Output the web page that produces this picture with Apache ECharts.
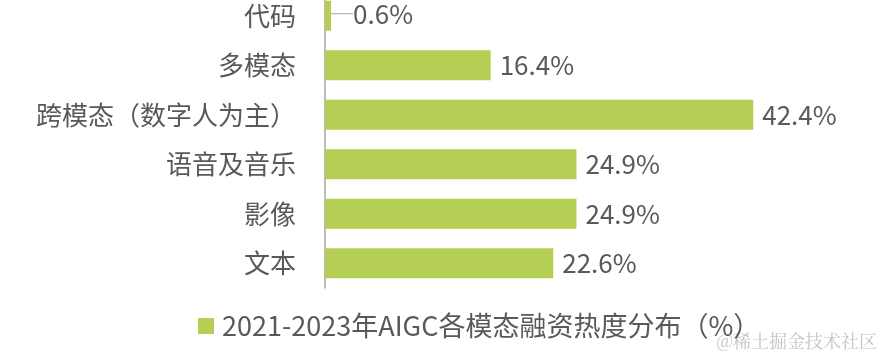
<!DOCTYPE html>
<html>
<head>
<meta charset="utf-8">
<script src="https://cdn.jsdelivr.net/npm/echarts@6/dist/echarts.min.js"></script>
<style>
html,body{margin:0;padding:0;background:#fff;}
#chart{width:884px;height:356px;}
</style>
</head>
<body>
<div id="chart"></div>
<script>
const categories = ['代码', '多模态', '跨模态（数字人为主）', '语音及音乐', '影像', '文本'];
const values = [0.6, 16.4, 42.4, 24.9, 24.9, 22.6];
const seriesName = '2021-2023年AIGC各模态融资热度分布（%）';
const watermark = '@稀土掘金技术社区';

const FONT = '"Noto Sans CJK SC", "Noto Sans", sans-serif';
const TEXT = '#595959';
const BAR = '#b5cf55';

const chart = echarts.init(document.getElementById('chart'), null, {renderer: 'canvas'});
chart.setOption({
  animation: false,
  textStyle: {fontFamily: FONT},
  grid: {left: 325, top: -9, bottom: 68, width: 505, containLabel: false, outerBoundsMode: 'none'},
  xAxis: {
    type: 'value', min: 0, max: 50, show: false
  },
  yAxis: {
    type: 'category', data: categories, inverse: true,
    axisLine: {show: true, lineStyle: {color: '#a6a6a6', width: 1.5}},
    axisTick: {show: false},
    axisLabel: {color: TEXT, fontSize: 26, margin: 29, fontFamily: FONT}
  },
  legend: {
    data: [seriesName],
    left: 198, top: 312, padding: 0,
    itemWidth: 16, itemHeight: 16, icon: 'rect',
    textStyle: {color: TEXT, fontSize: 27, fontFamily: FONT, lineHeight: 28, padding: [0, 0, 0, 3]}
  },
  series: [{
    name: seriesName,
    type: 'bar',
    data: values.map((v, i) => i === 0 ? {
      value: v,
      label: {padding: [0, 0, 0, 9]},
      labelLine: {show: true, lineStyle: {color: '#a6a6a6', width: 1}}
    } : v),
    barWidth: 30,
    itemStyle: {color: BAR},
    label: {
      show: true, position: 'right', distance: 9,
      formatter: p => p.value + '%',
      color: TEXT, fontSize: 26, fontFamily: FONT
    },
    labelLayout: p => p.dataIndex === 0 ? {dx: 4, dy: -2} : {}
  }],
  graphic: [{
    type: 'text', right: 7, bottom: 6,
    style: {text: watermark, fill: '#c4c4c4', fontSize: 18, fontFamily: '"Noto Serif CJK SC", "Noto Sans CJK SC", serif'}
  }]
});
</script>
</body>
</html>
